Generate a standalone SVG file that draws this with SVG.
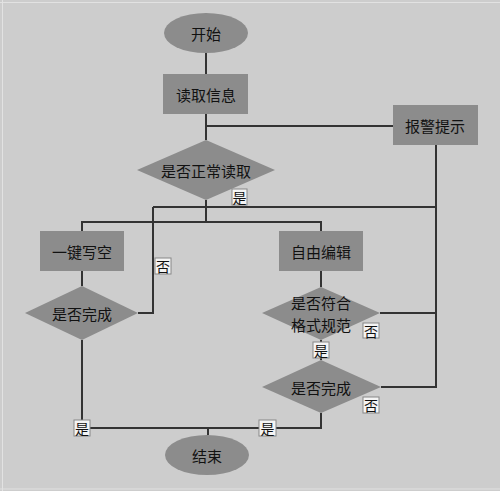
<svg xmlns="http://www.w3.org/2000/svg" width="500" height="491" viewBox="0 0 500 491">
<style>
.bg{fill:#cdcdcd}
.shape{fill:#8c8c8c}
.t{font-family:"Noto Sans CJK SC","Noto Sans",sans-serif;font-size:15px;fill:#111;text-anchor:middle;dominant-baseline:central}
.lbl rect{fill:#f4f4f4;stroke:#888;stroke-width:1}
.lbl text{font-family:"Noto Sans CJK SC",sans-serif;font-size:14px;fill:#111;text-anchor:middle;dominant-baseline:central}
.c{fill:none;stroke:#333;stroke-width:2}
</style>
<rect class="bg" x="0" y="0" width="500" height="491"/>
<line x1="0" y1="2.5" x2="500" y2="2.5" stroke="#e2e2e2" stroke-width="1"/>
<line x1="2.5" y1="0" x2="2.5" y2="491" stroke="#e2e2e2" stroke-width="1"/>
<line x1="0" y1="489" x2="500" y2="489" stroke="#e0e0e0" stroke-width="1"/>
<g id="connectors">
<path class="c" d="M206 53 V74"/>
<path class="c" d="M206 114 V140"/>
<path class="c" d="M206 126 H393"/>
<path class="c" d="M436 145 V387 H381"/>
<path class="c" d="M153 207 H436"/>
<path class="c" d="M206 200 V222"/>
<path class="c" d="M82 231 V222 H321 V231"/>
<path class="c" d="M82 271 V286"/>
<path class="c" d="M138 313 H153 V207"/>
<path class="c" d="M321 271 V287"/>
<path class="c" d="M380 313 H436"/>
<path class="c" d="M321 340 V360"/>
<path class="c" d="M82 340 V428 H321 V413"/>
<path class="c" d="M208 428 V435"/>
</g>
<g id="start"><ellipse class="shape" cx="206" cy="33" rx="42" ry="20"/><text class="t" x="206" y="33">开始</text></g>
<g id="read"><rect class="shape" x="163" y="74" width="85" height="40"/><text class="t" x="206" y="94">读取信息</text></g>
<g id="alarm"><rect class="shape" x="393" y="105" width="85" height="40"/><text class="t" x="435" y="125">报警提示</text></g>
<g id="check-read"><polygon class="shape" points="206,140 275,170 206,200 137,170"/><text class="t" x="206" y="170">是否正常读取</text></g>
<g id="clear"><rect class="shape" x="40" y="231" width="84" height="40"/><text class="t" x="82" y="251">一键写空</text></g>
<g id="edit"><rect class="shape" x="279" y="231" width="84" height="40"/><text class="t" x="321" y="251">自由编辑</text></g>
<g id="done-left"><polygon class="shape" points="82,286 138,313 82,340 25,313"/><text class="t" x="82" y="313">是否完成</text></g>
<g id="format"><polygon class="shape" points="321,287 380,313 321,340 262,313"/><text class="t" x="321" y="302">是否符合</text><text class="t" x="321" y="324">格式规范</text></g>
<g id="done-right"><polygon class="shape" points="321,360 381,387 321,413 262,387"/><text class="t" x="321" y="387">是否完成</text></g>
<g id="end"><ellipse class="shape" cx="207" cy="455" rx="42" ry="20"/><text class="t" x="207" y="455">结束</text></g>
<g id="labels">
<g class="lbl"><rect x="232" y="189" width="15" height="16"/><text x="239.5" y="197">是</text></g>
<g class="lbl"><rect x="155" y="258" width="16" height="16"/><text x="163" y="266">否</text></g>
<g class="lbl"><rect x="363" y="323" width="16" height="15"/><text x="371" y="330.5">否</text></g>
<g class="lbl"><rect x="313" y="342" width="16" height="16"/><text x="321" y="350">是</text></g>
<g class="lbl"><rect x="363" y="397" width="16" height="16"/><text x="371" y="405">否</text></g>
<g class="lbl"><rect x="74" y="420" width="16" height="16"/><text x="82" y="428">是</text></g>
<g class="lbl"><rect x="259" y="420" width="17" height="16"/><text x="267.5" y="428">是</text></g>
</g>
</svg>
